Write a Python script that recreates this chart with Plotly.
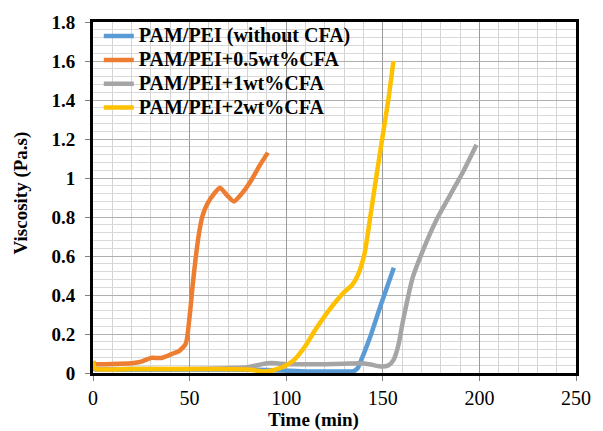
import plotly.graph_objects as go

# ---- data ----
names = ["PAM/PEI (without CFA)", "PAM/PEI+0.5wt%CFA", "PAM/PEI+1wt%CFA", "PAM/PEI+2wt%CFA"]
colors = ["#5B9BD5", "#ED7D31", "#A5A5A5", "#FFC000"]

t_blue = [0, 1, 10, 30, 50, 70, 90, 100, 110, 120, 130, 135, 137, 138.8, 141, 144, 149, 155.7]
v_blue = [0.03, 0.02, 0.018, 0.018, 0.018, 0.018, 0.016, 0.012, 0.008, 0.008, 0.008, 0.01, 0.025, 0.066, 0.12, 0.2, 0.35, 0.54]

t_orange = [0, 0.7, 2, 10, 20, 25, 28, 30.5, 35.5, 41.5, 44.5, 48, 50, 51.7, 53.4, 55.1, 56.8, 59.3, 62.7, 65.7, 69.5, 72.9, 77, 82, 86, 90.5]
v_orange = [0.06, 0.046, 0.045, 0.046, 0.05, 0.058, 0.07, 0.078, 0.077, 0.1, 0.112, 0.15, 0.29, 0.46, 0.61, 0.73, 0.81, 0.87, 0.92, 0.95, 0.91, 0.88, 0.92, 0.99, 1.06, 1.13]

t_gray = [0, 10, 30, 50, 70, 80, 85, 90, 95, 100, 110, 120, 130, 138.5, 143, 149.5, 153, 155.5, 158, 160.5, 165.5, 170, 177.5, 185, 192, 198.5]
v_gray = [0.02, 0.02, 0.02, 0.02, 0.025, 0.03, 0.04, 0.05, 0.05, 0.045, 0.045, 0.045, 0.048, 0.05, 0.045, 0.033, 0.04, 0.066, 0.14, 0.27, 0.49, 0.61, 0.78, 0.915, 1.04, 1.17]

t_yellow = [0, 0.7, 2, 20, 40, 60, 80, 85, 88, 92, 96, 100, 104, 110, 115, 122, 130, 134, 137, 140.5, 143.5, 147, 150, 153, 155.5]
v_yellow = [0.06, 0.03, 0.02, 0.02, 0.02, 0.02, 0.018, 0.012, 0.008, 0.012, 0.022, 0.04, 0.066, 0.14, 0.22, 0.32, 0.415, 0.45, 0.5, 0.61, 0.8, 1.03, 1.22, 1.41, 1.6]

x_ticks = [0, 50, 100, 150, 200, 250]
y_ticks = [0, 0.2, 0.4, 0.6, 0.8, 1.0, 1.2, 1.4, 1.6, 1.8]
y_ticktext = ["0", "0.2", "0.4", "0.6", "0.8", "1", "1.2", "1.4", "1.6", "1.8"]

series = [(t_blue, v_blue), (t_orange, v_orange), (t_gray, v_gray), (t_yellow, v_yellow)]

SERIF = "Liberation Serif"

fig = go.Figure()
for (t, v), name, c in zip(series, names, colors):
    fig.add_trace(go.Scatter(x=t, y=v, mode="lines",
                             name='<span style="font-size:20px">' + name + '</span>',
                             line=dict(color=c, width=4.5, shape="spline", smoothing=0.6)))

fig.update_layout(
    width=603, height=431,
    margin=dict(l=93, r=17, t=20, b=58),
    paper_bgcolor="white", plot_bgcolor="white",
    showlegend=True,
    legend=dict(x=0.012, y=1.008, xanchor="left", yanchor="top",
                bgcolor="rgba(0,0,0,0)", tracegroupgap=0,
                font=dict(family=SERIF, size=16, color="black", weight="bold")),
    xaxis=dict(range=[0, 250], tickvals=x_ticks, ticks="outside", ticklen=5, tickcolor="#808080",
               tickfont=dict(family=SERIF, size=20, color="black"),
               showgrid=True, gridcolor="#9a9a9a", gridwidth=1,
               minor=dict(dtick=10, showgrid=True, gridcolor="#d4d4d4", gridwidth=1, ticks=""),
               showline=True, linecolor="black", linewidth=3, mirror=True, zeroline=False),
    yaxis=dict(range=[0, 1.8], tickvals=y_ticks, ticktext=y_ticktext, ticks="outside", ticklen=5,
               tickcolor="#808080",
               tickfont=dict(family=SERIF, size=19, color="black", weight="bold"),
               showgrid=True, gridcolor="#b0b0b0", gridwidth=1,
               minor=dict(dtick=0.04, showgrid=True, gridcolor="#d9d9d9", gridwidth=1, ticks=""),
               showline=True, linecolor="black", linewidth=3, mirror=True, zeroline=False,
               ticklabelstandoff=6),
    annotations=[
        dict(text="Time (min)", xref="paper", yref="paper", x=0.456, y=-0.134,
             xanchor="center", yanchor="middle", showarrow=False,
             font=dict(family=SERIF, size=19, color="black", weight="bold")),
        dict(text="Viscosity (Pa.s)", xref="paper", yref="paper", x=-0.15, y=0.513,
             xanchor="center", yanchor="middle", showarrow=False, textangle=-90,
             font=dict(family=SERIF, size=19, color="black", weight="bold")),
    ],
)

fig.write_html("out.html")
